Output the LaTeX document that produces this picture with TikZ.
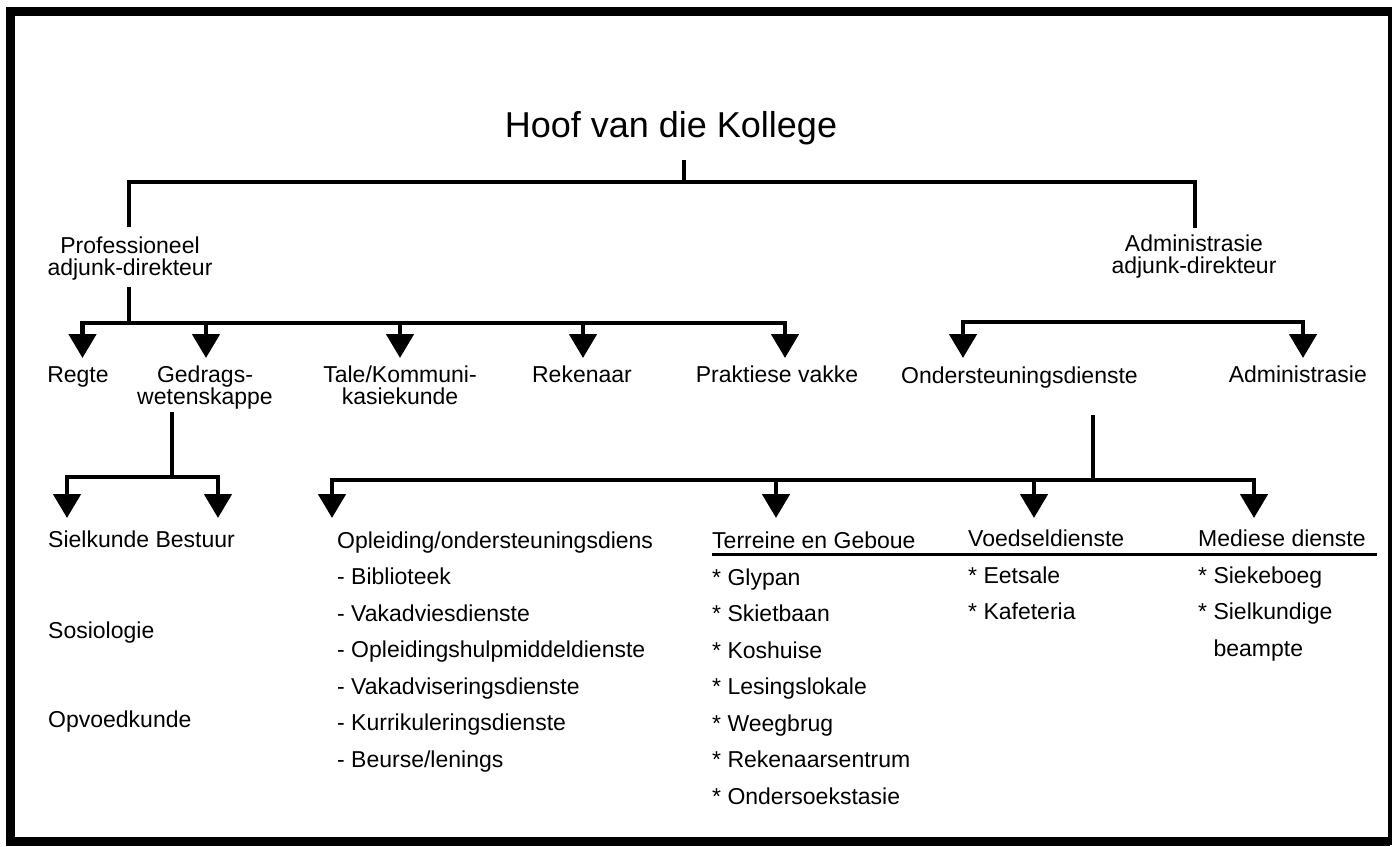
\documentclass[tikz,border=0pt]{standalone}
\usepackage{fontspec}
\setmainfont{Liberation Sans}
\usetikzlibrary{arrows.meta}
\begin{document}
\begin{tikzpicture}[x=1pt,y=-1pt,
  lbl/.style={font=\fontsize{23}{22}\selectfont, inner sep=0pt, align=center, anchor=base},
  lst/.style={font=\fontsize{23}{36.5}\selectfont, inner sep=0pt, align=left, anchor=base west},
  conn/.style={line width=4.8pt},
  arr/.style={conn, -{Triangle[width=27pt,length=24pt]}},
  frame/.style={line width=9pt}]
\useasboundingbox (0,0) rectangle (1394,846);
% frame
\draw[frame] (1390,11) -- (10.5,11) -- (10.5,841) -- (1390,841);
\draw[line width=4pt] (1390,7) -- (1390,845);

% title
\node[inner sep=0pt, anchor=base, font=\fontsize{36}{36}\selectfont] (hoof) at (671,137) {Hoof van die Kollege};

% level 1 (multi-line nodes: base = last line)
\node[lbl] (prof) at (130,275) {Professioneel\\adjunk-direkteur};
\node[lbl] (admadj) at (1194,273) {Administrasie\\adjunk-direkteur};
\coordinate (h-bot) at (684,160);
\coordinate (j1) at (684,182);
\coordinate (p-top) at (129,227);
\coordinate (a-top) at (1195,228);
\draw[conn] (h-bot) -- (j1);
\draw[conn] (p-top) |- (j1) -| (a-top);

% level 2 (professioneel)
\node[lbl] (regte) at (78,382) {Regte};
\node[lbl] (gedrag) at (205,404) {Gedrags-\\wetenskappe};
\node[lbl] (tale) at (400,404) {Tale/Kommuni-\\kasiekunde};
\node[lbl] (reken) at (582,382) {Rekenaar};
\node[lbl] (prak) at (777,382) {Praktiese vakke};
\coordinate (p-bot) at (129,287);
\coordinate (j2) at (129,323);
\coordinate (t-regte) at (82.5,358);
\coordinate (t-gedrag) at (206,358);
\coordinate (t-tale) at (400,358);
\coordinate (t-reken) at (583,358);
\coordinate (t-prak) at (785,358);
\draw[conn] (p-bot) -- (j2);
\draw[arr] (j2) -| (t-regte);
\draw[arr] (j2) -| (t-prak);
\draw[arr] (t-gedrag |- j2) -- (t-gedrag);
\draw[arr] (t-tale |- j2) -- (t-tale);
\draw[arr] (t-reken |- j2) -- (t-reken);

% level 2 (administrasie)
\node[lbl, anchor=base west] (onder) at (901,383) {Ondersteuningsdienste};
\node[lbl, anchor=base east] (admin) at (1367,382) {Administrasie};
\coordinate (t-onder) at (963,358);
\coordinate (t-admin) at (1303,358);
\coordinate (j3) at (1100,322);
\draw[arr] (j3) -| (t-onder);
\draw[arr] (j3) -| (t-admin);

% level 3 (gedragswetenskappe)
\node[lbl, anchor=base west] (siel) at (48,547) {Sielkunde Bestuur};
\node[lbl, anchor=base west] (sosio) at (48,638) {Sosiologie};
\node[lbl, anchor=base west] (opvoed) at (48,727) {Opvoedkunde};
\coordinate (g-bot) at (172,412);
\coordinate (j4) at (172,477);
\coordinate (t-s1) at (67,518);
\coordinate (t-s2) at (218,518);
\draw[conn] (g-bot) -- (j4);
\draw[arr] (j4) -| (t-s1);
\draw[arr] (j4) -| (t-s2);

% level 3 (ondersteuningsdienste)
\node[lst] (opl) at (337,767) {Opleiding/ondersteuningsdiens\\- Biblioteek\\- Vakadviesdienste\\- Opleidingshulpmiddeldienste\\- Vakadviseringsdienste\\- Kurrikuleringsdienste\\- Beurse/lenings};
\node[lbl, anchor=base west] (terr) at (712,548) {Terreine en Geboue};
\node[lst] (terrl) at (712,804) {* Glypan\\* Skietbaan\\* Koshuise\\* Lesingslokale\\* Weegbrug\\* Rekenaarsentrum\\* Ondersoekstasie};
\node[lbl, anchor=base west] (voed) at (968,546) {Voedseldienste};
\node[lst] (voedl) at (968,619.5) {* Eetsale\\* Kafeteria};
\node[lst] (medl) at (1198,656) {* Siekeboeg\\* Sielkundige\\\hphantom{* }beampte};
\node[lbl, anchor=base west] (med) at (1198,546) {Mediese dienste};
\coordinate (o-bot) at (1093,415);
\coordinate (j5) at (1093,480);
\coordinate (t-opl) at (332,518);
\coordinate (t-terr) at (776,518);
\coordinate (t-voed) at (1034,518);
\coordinate (t-med) at (1254,518);
\coordinate (ul-a) at (712,554);
\coordinate (ul-b) at (1377,554);
\draw[conn] (o-bot) -- (j5);
\draw[arr] (j5) -| (t-opl);
\draw[arr] (j5) -| (t-med);
\draw[arr] (t-terr |- j5) -- (t-terr);
\draw[arr] (t-voed |- j5) -- (t-voed);
\draw[line width=3pt] (ul-a) -- (ul-b);
\end{tikzpicture}
\end{document}
